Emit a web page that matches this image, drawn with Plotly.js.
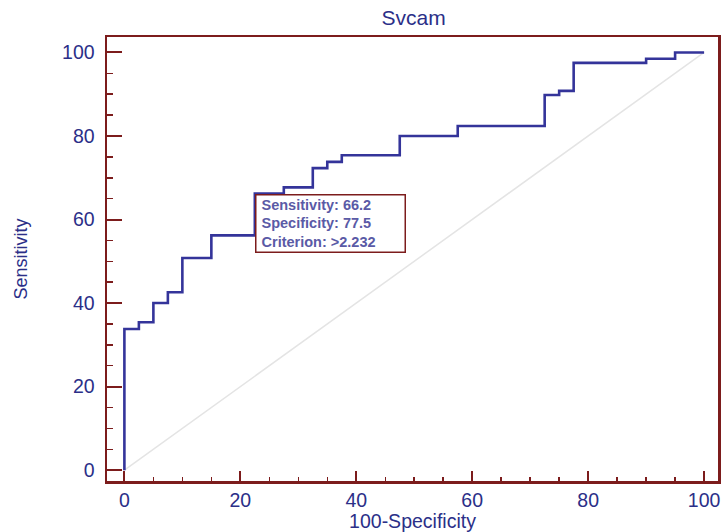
<!DOCTYPE html>
<html>
<head>
<meta charset="utf-8">
<script src="https://cdn.plot.ly/plotly-3.0.1.min.js"></script>
<style>html,body{margin:0;padding:0;background:#fff;}#chart{width:722px;height:532px;}</style>
</head>
<body>
<div id="chart"></div>
<script>
// ROC curve data (100-Specificity, Sensitivity)
const fpr = [0, 0, 2.5, 5, 7.5, 10, 15, 22.5, 27.5, 32.5, 35, 37.5, 47.5, 57.5, 72.5, 75, 77.5, 90, 95, 100];
const tpr = [0, 33.8, 35.4, 40, 42.6, 50.8, 56.2, 66.2, 67.7, 72.3, 73.8, 75.4, 80, 82.4, 89.8, 90.8, 97.5, 98.5, 100, 100];
const refX = [0, 100];
const refY = [0, 100];
const xTicks = [0, 20, 40, 60, 80, 100];
const yTicks = [0, 20, 40, 60, 80, 100];
const criterionPoint = {x: 22.5, y: 66.2};
const boxLines = ["Sensitivity: 66.2", "Specificity: 77.5", "Criterion: >2.232"];

const axisRed = '#7c1c1c';
const blue = '#2b2f88';
const font = 'Liberation Sans, Arial, sans-serif';

const traces = [
  {x: refX, y: refY, mode: 'lines', line: {color: '#e4e4e4', width: 1.5}, hoverinfo: 'skip', showlegend: false},
  {x: fpr, y: tpr, mode: 'lines', line: {color: '#34349a', width: 2.6, shape: 'hv'}, showlegend: false}
];

const axisCommon = {
  showline: true, mirror: true, linecolor: axisRed, linewidth: 2.5,
  showgrid: false, zeroline: false,
  ticks: 'inside', tickcolor: axisRed, tickwidth: 2,
  tickfont: {family: font, size: 19.5, color: blue},
  tickmode: 'array'
};

const layout = {
  width: 722, height: 532,
  margin: {l: 107, r: 4, t: 37, b: 51},
  paper_bgcolor: '#fff', plot_bgcolor: '#fff',
  title: {text: 'Svcam', font: {family: font, size: 21, color: blue}, x: 0.573, xref: 'container', y: 0.966, yref: 'container', yanchor: 'middle'},
  xaxis: Object.assign({}, axisCommon, {
    range: [-3.0, 102.4], tickvals: xTicks, ticktext: xTicks.map(String), ticklen: 10,
    minor: {dtick: 5, tick0: 0, ticks: 'inside', ticklen: 4, tickcolor: axisRed, tickwidth: 1.5},
    title: {text: '100-Specificity', font: {family: font, size: 19.5, color: blue}, standoff: 4}
  }),
  yaxis: Object.assign({}, axisCommon, {
    range: [-2.6, 103.7], tickvals: yTicks, ticktext: yTicks.map(String), ticklen: 15,
    ticklabelstandoff: 6,
    minor: {dtick: 5, tick0: 0, ticks: 'inside', ticklen: 6, tickcolor: axisRed, tickwidth: 1.5},
    title: {text: 'Sensitivity', font: {family: font, size: 18, color: blue}, standoff: 30}
  }),
  annotations: [{
    x: criterionPoint.x, y: criterionPoint.y, xref: 'x', yref: 'y',
    xanchor: 'left', yanchor: 'top', showarrow: false,
    text: boxLines.map(s => '\u00a0<b>' + s + '</b>').join('<br>'),
    align: 'left', width: 146,
    font: {family: font, size: 14.5, color: '#5a5aa6'},
    bgcolor: '#fff', bordercolor: axisRed, borderwidth: 1.5, borderpad: 1
  }]
};

Plotly.newPlot('chart', traces, layout, {displayModeBar: false, staticPlot: true});
</script>
</body>
</html>
